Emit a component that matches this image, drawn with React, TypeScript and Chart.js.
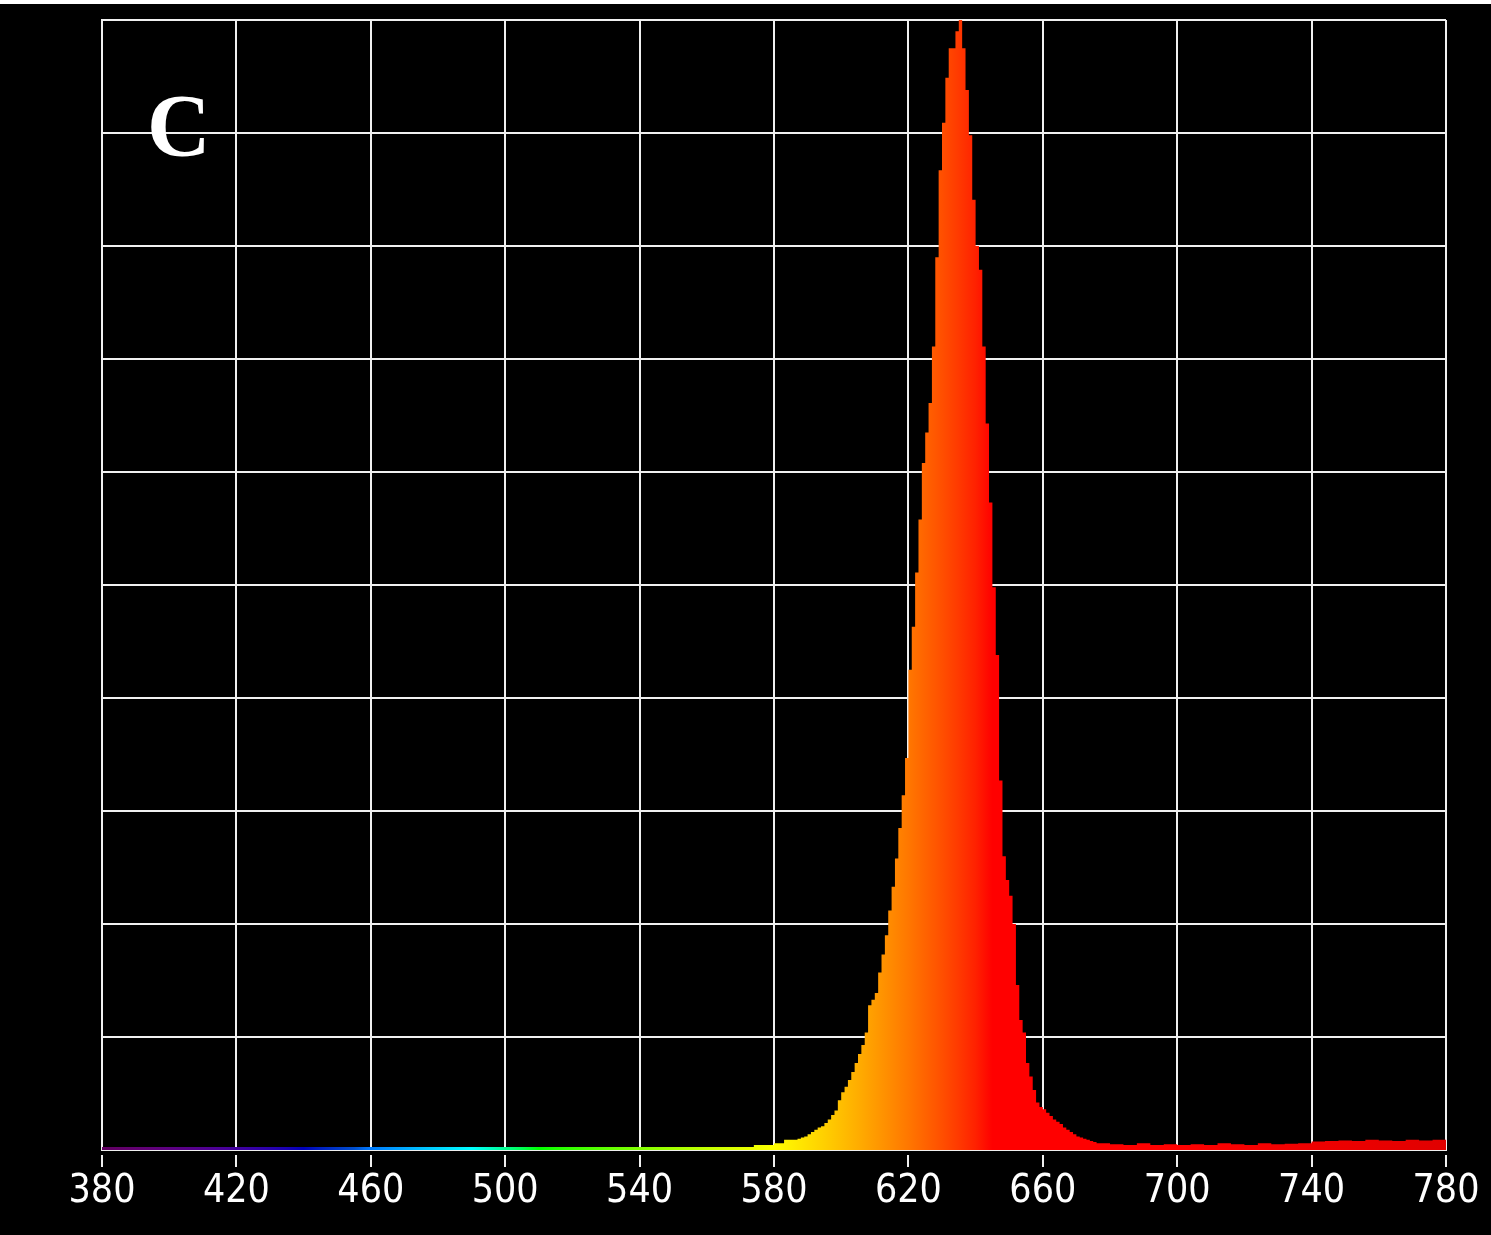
import React, { useEffect, useRef } from "react";
import { Chart, registerables } from "chart.js";

Chart.register(...registerables);

// Wavelength (nm), left edge of each spectral bin
const wavelengths = [
  380, 400, 420, 440, 460, 480, 500, 520, 540, 560, 574,
  580, 583, 587, 588, 589, 590, 591, 592, 593, 594, 595, 596, 597, 598, 599,
  600, 601, 602, 603, 604, 605, 606, 607, 608, 609,
  610, 611, 612, 613, 614, 615, 616, 617, 618, 619,
  620, 621, 622, 623, 624, 625, 626, 627, 628, 629,
  630, 631, 632, 633, 634, 635, 636, 637, 638, 639,
  640, 641, 642, 643, 644, 645, 646, 647, 648, 649,
  650, 651, 652, 653, 654, 655, 656, 657, 658, 659,
  660, 661, 662, 663, 664, 665, 666, 667, 668, 669,
  670, 671, 672, 673, 674, 675,
  676, 680, 684, 688, 692, 696, 700, 704, 708, 712, 716, 720, 724, 728, 732, 736,
  740, 744, 748, 752, 756, 760, 764, 768, 772, 776, 780,
];

// Relative intensity (a.u.)
const intensity = [
  0.0027, 0.0027, 0.0027, 0.0027, 0.0027, 0.0027, 0.0027, 0.0027, 0.0027, 0.0027, 0.0044,
  0.006, 0.009, 0.01, 0.011, 0.012, 0.014, 0.016, 0.018, 0.02, 0.021, 0.024, 0.027, 0.031, 0.035, 0.044,
  0.051, 0.056, 0.062, 0.069, 0.077, 0.085, 0.093, 0.104, 0.128, 0.133,
  0.139, 0.157, 0.173, 0.19, 0.212, 0.233, 0.258, 0.285, 0.314, 0.347,
  0.425, 0.463, 0.511, 0.558, 0.608, 0.635, 0.661, 0.711, 0.79, 0.867,
  0.909, 0.949, 0.975, 0.975, 0.99, 1.0, 0.975, 0.938, 0.898, 0.841,
  0.8, 0.779, 0.711, 0.643, 0.573, 0.498, 0.438, 0.327, 0.26, 0.239,
  0.225, 0.2, 0.146, 0.115, 0.104, 0.077, 0.065, 0.053, 0.042, 0.038,
  0.036, 0.033, 0.03, 0.027, 0.025, 0.023, 0.02, 0.018, 0.016, 0.014,
  0.012, 0.011, 0.01, 0.009, 0.008, 0.007,
  0.006, 0.005, 0.0045, 0.006, 0.0045, 0.005, 0.0045, 0.005, 0.0045, 0.006, 0.005, 0.0045, 0.006, 0.005, 0.0055, 0.006,
  0.0075, 0.008, 0.0085, 0.008, 0.009, 0.0085, 0.008, 0.009, 0.0085, 0.009, 0.009,
];

const xTicks = [380, 420, 460, 500, 540, 580, 620, 660, 700, 740, 780];

const GRID = "rgba(240,240,240,1)";

function wavelengthToRgb(w: number): string {
  let r = 0, g = 0, b = 0;
  if (w < 440) { r = -(w - 440) / 60; g = 0; b = 1; }
  else if (w < 490) { r = 0; g = (w - 440) / 50; b = 1; }
  else if (w < 510) { r = 0; g = 1; b = -(w - 510) / 20; }
  else if (w < 580) { r = (w - 510) / 70; g = 1; b = 0; }
  else if (w < 645) { r = 1; g = -(w - 645) / 65; b = 0; }
  else { r = 1; g = 0; b = 0; }
  let f = 1;
  if (w < 460) f = 0.3 + 0.5 * (w - 380) / 80;
  else if (w > 700) f = 1 - 0.15 * (w - 700) / 80;
  const c = (v: number) => Math.round(255 * Math.pow(v * f, 0.8));
  return `rgb(${c(r)},${c(g)},${c(b)})`;
}

const tickMarks = {
  id: "tickMarks",
  afterDraw(chart: any) {
    const xs = chart.scales.x;
    const ctx = chart.ctx;
    ctx.save();
    ctx.strokeStyle = GRID;
    ctx.lineWidth = 2;
    xs.ticks.forEach((t: any) => {
      const px = Math.round(xs.getPixelForValue(t.value));
      ctx.beginPath();
      ctx.moveTo(px, xs.top + 5);
      ctx.lineTo(px, xs.top + 17);
      ctx.stroke();
    });
    ctx.restore();
  },
};

export default function App() {
  const ref = useRef<HTMLCanvasElement | null>(null);

  useEffect(() => {
    document.body.style.margin = "0";
    document.body.style.background = "#000";
    const canvas = ref.current!;
    const data = wavelengths.map((w, i) => ({ x: w, y: intensity[i] }));
    const chart = new Chart(canvas, {
      type: "line",
      data: {
        datasets: [
          {
            data,
            stepped: true,
            fill: "origin",
            borderWidth: 0,
            borderColor: "transparent",
            pointRadius: 0,
            backgroundColor: (c: any) => {
              const ch = c.chart;
              const xs = ch.scales?.x;
              if (!ch.chartArea || !xs) return "red";
              const x0 = xs.getPixelForValue(380);
              const x1 = xs.getPixelForValue(780);
              const g = ch.ctx.createLinearGradient(x0, 0, x1, 0);
              for (let w = 380; w <= 780; w += 5) {
                g.addColorStop((w - 380) / 400, wavelengthToRgb(w));
              }
              return g;
            },
          },
        ],
      },
      options: {
        animation: false,
        responsive: false,
        devicePixelRatio: 1,
        layout: { padding: { left: 102, top: 20, right: 45, bottom: 0 } },
        plugins: { legend: { display: false }, tooltip: { enabled: false } },
        scales: {
          x: {
            type: "linear",
            min: 380,
            max: 780,
            z: 1,
            afterFit: (s: any) => { s.height = 85; s.paddingLeft = 0; s.paddingRight = 0; },
            afterBuildTicks: (s: any) => { s.ticks = xTicks.map((v) => ({ value: v })); },
            grid: { color: GRID, lineWidth: 2, drawTicks: false },
            border: { color: GRID, width: 2 },
            ticks: {
              color: "#ffffff",
              padding: 18,
              maxRotation: 0,
              autoSkip: false,
              font: { family: "'Liberation Sans Narrow', 'DejaVu Sans Condensed', sans-serif", size: 39 },
              callback: (v: any) => String(v),
            },
          },
          y: {
            type: "linear",
            min: 0,
            max: 1,
            z: 1,
            afterFit: (s: any) => { s.width = 0; s.paddingTop = 0; s.paddingBottom = 0; },
            grid: { color: GRID, lineWidth: 2, drawTicks: false },
            border: { color: GRID, width: 2 },
            ticks: { display: false, stepSize: 0.1 },
          },
        },
      },
      plugins: [tickMarks],
    });
    return () => chart.destroy();
  }, []);

  return (
    <div style={{ position: "relative", width: 1491, height: 1235, background: "#000", overflow: "hidden" }}>
      <div style={{ position: "absolute", left: 0, top: 0, width: 1491, height: 4, background: "#fff" }} />
      <canvas ref={ref} width={1491} height={1235} style={{ display: "block" }} />
      <div
        style={{
          position: "absolute",
          left: 147,
          top: 82,
          color: "#fff",
          fontFamily: "'Liberation Serif', 'DejaVu Serif', serif",
          fontWeight: "bold",
          fontSize: 88,
          lineHeight: 1,
        }}
      >
        C
      </div>
    </div>
  );
}
